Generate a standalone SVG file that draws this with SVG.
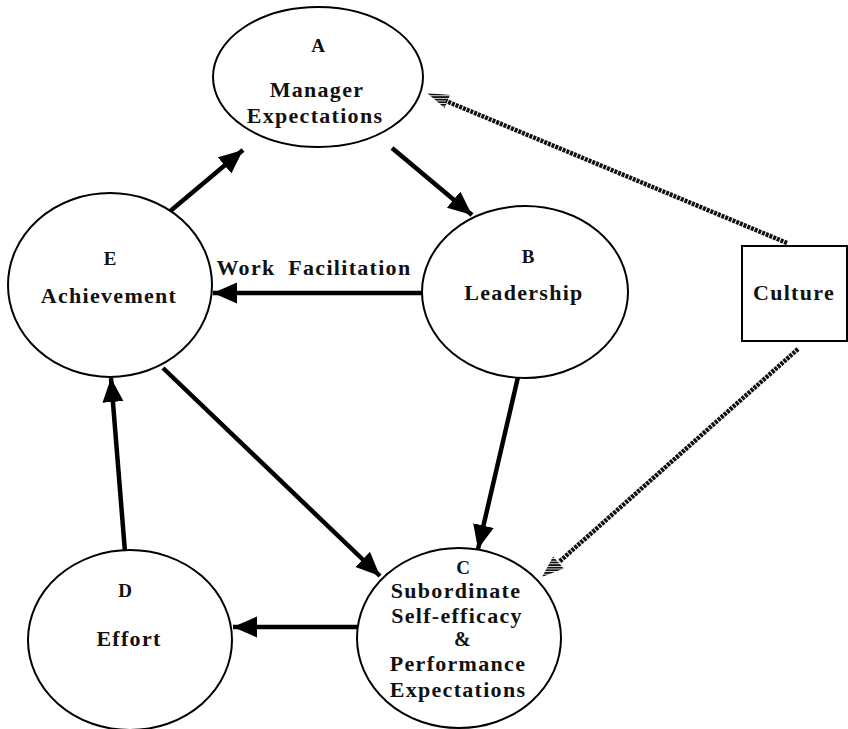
<svg xmlns="http://www.w3.org/2000/svg" width="848" height="729" viewBox="0 0 848 729">
<style>
.node{fill:#fff;stroke:#000;stroke-width:2}
.t{font-family:"Liberation Serif","Times New Roman",serif;font-weight:bold;fill:#111;text-anchor:middle}
.lbl{font-size:19px}
.big{font-size:22px;letter-spacing:1.3px}
.arr{stroke:#000;stroke-width:4.5;fill:none;marker-end:url(#ah)}
.hat{stroke:#111;stroke-width:4.5;stroke-dasharray:3 1;fill:none}
</style>
<defs>
<marker id="ah" markerUnits="userSpaceOnUse" markerWidth="26" markerHeight="22" refX="24" refY="10.5" orient="auto">
<path d="M0,0 L24,10.5 L0,21 z" fill="#000"/>
</marker>
<pattern id="hp" patternUnits="userSpaceOnUse" width="6" height="2.6">
<rect x="0" y="0" width="6" height="1.8" fill="#111"/>
</pattern>
</defs>
<rect width="848" height="729" fill="#fff"/>
<g id="connectors">
<line class="arr" x1="162" y1="218" x2="243" y2="150"/>
<line class="arr" x1="392" y1="148" x2="472" y2="215"/>
<line class="arr" x1="422" y1="293" x2="213" y2="293"/>
<line class="arr" x1="518" y1="377" x2="478" y2="549"/>
<line class="arr" x1="163" y1="368" x2="380" y2="576"/>
<line class="arr" x1="358" y1="627" x2="233" y2="627"/>
<line class="arr" x1="125" y1="552" x2="111" y2="378"/>
<line class="hat" x1="787" y1="243" x2="446" y2="101"/>
<polygon points="427,93 450,95 444.6,108" fill="url(#hp)"/>
<line class="hat" x1="798" y1="349" x2="559" y2="562"/>
<polygon points="542,577 563.7,568.4 553.1,556.4" fill="url(#hp)"/>
<text class="t big" x="314" y="275" style="word-spacing:6px">Work Facilitation</text>
</g>
<g id="nodeA">
<ellipse class="node" cx="318" cy="77" rx="105" ry="70"/>
<text class="t lbl" x="318" y="52">A</text>
<text class="t big" x="317" y="97">Manager</text>
<text class="t big" x="315" y="123">Expectations</text>
</g>
<g id="nodeB">
<ellipse class="node" cx="525" cy="292" rx="103" ry="86"/>
<text class="t lbl" x="528" y="263">B</text>
<text class="t big" x="524" y="300">Leadership</text>
</g>
<g id="nodeC">
<ellipse class="node" cx="459" cy="638" rx="102" ry="90"/>
<text class="t lbl" x="463" y="574">C</text>
<text class="t big" x="456" y="598">Subordinate</text>
<text class="t big" x="457" y="623">Self-efficacy</text>
<text class="t big" x="463" y="646" style="font-size:20px">&amp;</text>
<text class="t big" x="458" y="671">Performance</text>
<text class="t big" x="458" y="697">Expectations</text>
</g>
<g id="nodeD">
<ellipse class="node" cx="130" cy="640" rx="102" ry="90"/>
<text class="t lbl" x="125" y="597">D</text>
<text class="t big" x="129" y="646">Effort</text>
</g>
<g id="nodeE">
<ellipse class="node" cx="110" cy="285" rx="102" ry="92"/>
<text class="t lbl" x="110" y="265">E</text>
<text class="t big" x="109" y="303">Achievement</text>
</g>
<g id="culture">
<rect class="node" x="742" y="246" width="105" height="95"/>
<text class="t big" x="794" y="300">Culture</text>
</g>
</svg>
